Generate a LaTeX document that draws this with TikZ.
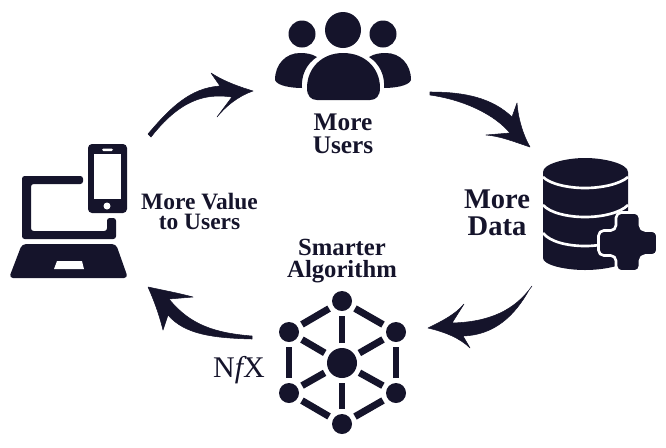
\documentclass[tikz,border=0pt]{standalone}
\usepackage{fontspec}
\setmainfont{Liberation Serif}
\usepackage{xcolor}
\definecolor{ink}{HTML}{15142B}

\begin{document}
\begin{tikzpicture}[x=0.75pt,y=-0.75pt]
\tikzset{every path/.style={line join=round}}
\tikzset{inkfill/.style={fill=ink,draw=ink,line width=0.4pt}}
\tikzset{label/.style={text=ink,align=center,anchor=base}}
\tikzset{hub/.style={circle,fill=ink,inner sep=0pt,outer sep=3.75pt,minimum size=15pt}}
\tikzset{spoke/.style={draw=ink,line width=5.2pt}}
\tikzset{gap/.style={draw=white,line width=2pt}}

\useasboundingbox (0,0) rectangle (666,447);

% users
\fill[ink] (343,30) circle (18);
\fill[ink] (302,34) circle (13.5);
\fill[ink] (383,34) circle (13.5);
\fill[ink] (307,88) .. controls (307,68) and (322,53) .. (343,53) .. controls (365,53) and (380,68) .. (380,88)
  .. controls (380,96) and (376,100) .. (370,100) -- (317,100) .. controls (311,100) and (307,96) .. (307,88) -- cycle;
\fill[ink] (275,80) .. controls (275,64) and (286,53) .. (300,53) .. controls (307,53) and (312,54) .. (317,57)
  .. controls (306,64) and (301,76) .. (302,88) .. controls (292,88) and (277,86) .. (275,80) -- cycle;
\fill[ink] (411,80) .. controls (411,64) and (400,53) .. (386,53) .. controls (379,53) and (374,54) .. (369,57)
  .. controls (380,64) and (385,76) .. (384,88) .. controls (394,88) and (409,86) .. (411,80) -- cycle;
\node[label,font=\fontsize{19}{17.2}\selectfont\bfseries] (users) at (343,153) {More\\Users};

% database
\fill[ink] (543,172) -- (543,258) .. controls (543,265) and (565,270) .. (585,270) .. controls (605,270) and (628,265) .. (628,258) -- (628,172)
  .. controls (628,164) and (605,158) .. (585,158) .. controls (565,158) and (543,164) .. (543,172) -- cycle;
\draw[gap] (543,177) .. controls (550,184) and (568,188) .. (585,188) .. controls (602,188) and (620,184) .. (628,177);
\draw[gap] (543,205) .. controls (550,213) and (568,217) .. (585,217) .. controls (602,217) and (620,213) .. (628,205);
\draw[gap] (543,233) .. controls (550,242) and (568,246) .. (585,246) .. controls (602,246) and (620,242) .. (628,233);
\filldraw[fill=ink,draw=white,line width=2pt,rounded corners=4pt] (616,212.5) -- (640,212.5) -- (640,230.5) -- (657.5,230.5) -- (657.5,255.5) -- (640,255.5) -- (640,271.5) -- (616,271.5) -- (616,255.5) -- (598.5,255.5) -- (598.5,230.5) -- (616,230.5) -- cycle;
\node[label,font=\fontsize{21.4}{20.2}\selectfont\bfseries] (data) at (497,235) {More\\Data};

% algorithm
\node[hub,minimum size=22.5pt] (centre) at (342,363) {};
\foreach \name/\xx/\yy in {top/342/301,upleft/289/332,upright/396/332,lowleft/289/393,lowright/396/393,bottom/342/424}
  \node[hub] (\name) at (\xx,\yy) {};
\foreach \name in {top,upleft,upright,lowleft,lowright,bottom}
  \draw[spoke] (centre) -- (\name);
\draw[spoke] (top) -- (upleft);
\draw[spoke] (upleft) -- (lowleft);
\draw[spoke] (lowleft) -- (bottom);
\draw[spoke] (bottom) -- (lowright);
\draw[spoke] (lowright) -- (upright);
\draw[spoke] (upright) -- (top);
\node[label,font=\fontsize{18.5}{15.8}\selectfont\bfseries] (algo) at (342,277) {Smarter\\Algorithm};
\node[text=ink,anchor=base,font=\fontsize{22.5}{22}\selectfont] (nfx) at (239,377) {N{\itshape f}X};

% devices
\fill[ink,rounded corners=2pt] (83,176) -- (22,176) -- (22,239) -- (116,239) -- (116,218) -- (107,218) -- (107,231) -- (31,231) -- (31,184) -- (83,184) -- cycle;
\fill[ink,rounded corners=3pt] (22,244) -- (116,244) -- (128,278) -- (9,278) -- cycle;
\fill[white] (57,261) -- (82,261) -- (84,269) -- (54,269) -- cycle;
\fill[ink,rounded corners=3pt] (88,144) rectangle (127,213);
\fill[white] (94,154) rectangle (121,199);
\fill[white,rounded corners=1pt] (102,148.5) rectangle (113,151);
\fill[white] (107,206) circle (3.5);
\node[label,font=\fontsize{17.6}{15}\selectfont\bfseries] (value) at (199.5,229) {More Value\\to Users};

% arrows
\coordinate (usersin) at (253,91);
\coordinate (valueout) at (148,134);
\coordinate (usersout) at (430,92);
\coordinate (datain) at (530,147);
\coordinate (dataout) at (532,286);
\coordinate (algoin) at (428,328);
\coordinate (algoout) at (252,336);
\coordinate (valuein) at (148,287);

\filldraw[inkfill] (valueout) .. controls (170,108) and (190,88) .. (220,86) -- (211,73) .. controls (225,82) and (240,87) .. (usersin)
  .. controls (238,96) and (225,107) .. (217,117) -- (232,97) .. controls (205,93) and (180,100) .. (151,137) -- cycle;
\filldraw[inkfill] (usersout) .. controls (465,92) and (492,98) .. (512,117) -- (517,103) .. controls (518,118) and (523,135) .. (datain)
  .. controls (515,142) and (500,136) .. (486,135) -- (510,133) .. controls (495,115) and (465,100) .. (430,95) -- cycle;
\filldraw[inkfill] (dataout) .. controls (515,310) and (490,322) .. (452,323) -- (464,304) .. controls (455,315) and (440,322) .. (algoin)
  .. controls (445,332) and (460,338) .. (470,348) -- (463,336) .. controls (495,335) and (515,315) .. (529,290) -- cycle;
\filldraw[inkfill] (algoout) .. controls (215,333) and (190,325) .. (169,299) -- (193,297) .. controls (178,293) and (162,290) .. (valuein)
  .. controls (156,305) and (160,318) .. (163,330) -- (168,315) .. controls (185,335) and (215,338) .. (252,339) -- cycle;

\end{tikzpicture}
\end{document}
